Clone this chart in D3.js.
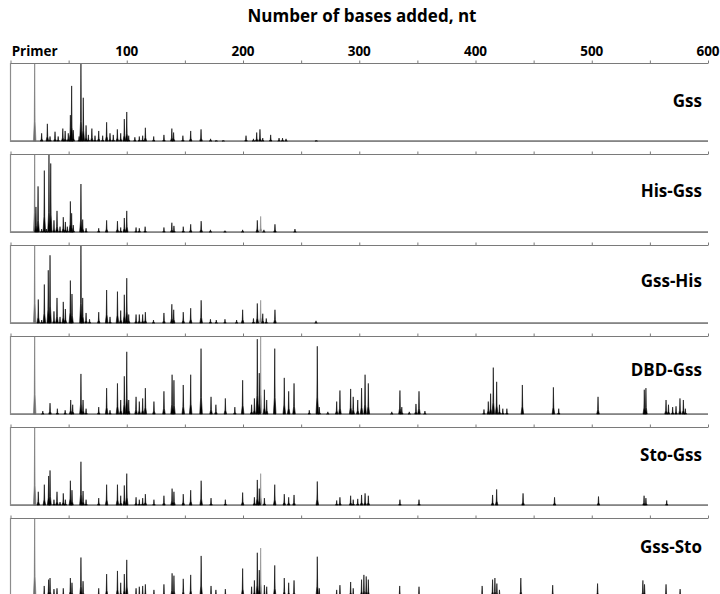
<!DOCTYPE html>
<html>
<head>
<meta charset="utf-8">
<script src="https://cdn.jsdelivr.net/npm/d3@7"></script>
<style>
  body { margin: 0; background: #fff; }
  svg { display: block; font-family: "Open Sans", sans-serif; }
</style>
</head>
<body>
<div id="chart"></div>
<script>
// sample names, top to bottom
const samples = ["Gss", "His-Gss", "Gss-His", "DBD-Gss", "Sto-Gss", "Gss-Sto"]
const tickValues = [20.8, 100, 200, 300, 400, 500, 600]
const tickLabels = ["Primer", "100", "200", "300", "400", "500", "600"]
const primerNt = 20.8
const overlayNt = 215.2

// peaks: [position in nt, height as fraction of panel]
const gssPeaks = [
  [20.8, 1], [26.8, .11], [31.7, .23], [34, .07], [38.3, .13], [41, .07], [45, .17], [47, .14],
  [49.7, .11], [51.5, .34], [52.6, .71], [54, .15], [59, .07], [60.6, 1], [62.6, .56], [65, .21],
  [67, .09], [70, .17], [72.7, .08], [75.9, .14], [79.3, .08], [82.7, .25], [85.6, .11], [88.4, .09],
  [91.9, .16], [94.8, .11], [97.9, .29], [100, .38], [101.7, .08], [107, .06], [110.8, .07],
  [113.7, .08], [116, .18], [123.2, .07], [132, .09], [138.8, .17], [140.3, .12], [148.3, .08],
  [155, .14], [163.9, .16], [172.1, .04], [177, .02], [183, .02], [202.6, .08], [209, .04],
  [211.8, .12], [214.6, .16], [217, .05], [223.8, .09], [231, .05], [234, .05], [237, .04], [263, .02]
]
const hisGssPeaks = [
  [20.8, 1], [21.9, .33], [23.7, .59], [26.8, .05], [29.1, .79], [31, .05], [33.1, .99], [34.6, .88],
  [37.4, .16], [40, .28], [42.6, .08], [45.4, .2], [47.2, .14], [48.9, .08], [51.5, .4], [52.6, .25],
  [54, .1], [60.6, .62], [62.1, .17], [65, .06], [75.9, .06], [82.7, .16], [92, .15], [94.8, .07],
  [97.9, .19], [100, .28], [108, .07], [110.8, .06], [115.8, .08], [132, .07], [138.8, .13],
  [140.6, .09], [148.6, .08], [155, .11], [164, .15], [172, .04], [184.5, .03], [199.7, .04],
  [212.3, .16], [215.2, .21], [218, .04], [227.5, .11], [244.7, .05]
]
const gssHisPeaks = [
  [20.8, 1], [23.9, .31], [26.8, .05], [29.1, .5], [32.5, .68], [34, .87], [37.4, .16], [40, .33],
  [42.6, .09], [45.4, .28], [47.2, .19], [51.5, .55], [52.9, .38], [60.6, 1], [62.1, .33], [65, .14],
  [68, .06], [75.9, .15], [82.7, .43], [85.6, .09], [92, .41], [94.8, .17], [97.9, .37], [100, .58],
  [101.7, .12], [108, .12], [110.8, .12], [113.7, .12], [116, .15], [123, .05], [132, .14],
  [138.8, .25], [140.4, .18], [148.6, .15], [155, .2], [164, .3], [172, .06], [177, .05],
  [184.5, .06], [194.5, .05], [199.7, .18], [209, .07], [212.3, .26], [215.2, .3], [217, .13],
  [220, .07], [227.5, .18], [262.8, .04]
]
const dbdGssPeaks = [
  [20.8, 1], [27.8, .05], [34, .15], [40.3, .08], [47, .06], [51.8, .19], [53.5, .13], [60.6, .52],
  [62.4, .19], [65, .08], [75.9, .1], [82.7, .34], [85.6, .06], [92, .4], [94.8, .19], [97.9, .49],
  [100, .8], [101.7, .19], [108, .23], [110.8, .17], [113.7, .21], [116, .34], [123.4, .17],
  [132, .3], [139, .51], [140.6, .44], [148.6, .38], [155, .51], [163.9, .84], [172.5, .23],
  [176.7, .13], [184.8, .21], [193, .1], [199.7, .44], [207.4, .13], [209.8, .21], [212.3, .96],
  [214, .53], [215.2, 1], [218.4, .32], [220.4, .19], [227.3, .84], [235.5, .47], [239.3, .3],
  [243.9, .4], [257, .06], [263.9, .87], [265.6, .1], [273, .04], [280.6, .17], [283.4, .31],
  [292.6, .33], [294.8, .23], [298.7, .19], [302, .34], [305, .51], [307.8, .4], [328, .04],
  [335, .31], [336.6, .1], [343, .04], [348.8, .14], [351.4, .3], [356.5, .05], [407.3, .07],
  [411, .17], [413, .27], [415.3, .6], [418.2, .42], [420.6, .13], [423.5, .08], [427, .08],
  [440.3, .38], [467, .35], [471.6, .08], [505.4, .23], [545.2, .32], [546.6, .34], [563.9, .19],
  [566, .13], [569.6, .1], [572.5, .11], [575.9, .21], [578.8, .19], [580.5, .08]
]
const stoGssPeaks = [
  [20.8, 1], [23.9, .18], [29.1, .27], [32.8, .38], [34, .45], [37.4, .08], [40, .18], [42.6, .05],
  [45.4, .16], [47.2, .08], [51.5, .32], [52.9, .2], [60.6, .56], [62.4, .19], [65, .08], [75.9, .1],
  [82.7, .27], [92, .27], [94.8, .13], [97.9, .26], [100, .41], [108, .11], [110.8, .08],
  [113.7, .1], [116, .15], [123.4, .08], [132, .13], [139, .22], [140.6, .18], [148.6, .15],
  [155, .2], [164, .32], [172.5, .1], [184.8, .08], [199.7, .17], [209.8, .11], [212.3, .33],
  [214, .22], [215.2, .41], [218.4, .1], [227.3, .27], [235.5, .15], [239.3, .11], [243.9, .14],
  [263.9, .31], [280.6, .07], [283.4, .11], [292.6, .13], [294.8, .08], [298.7, .09], [302, .14],
  [305, .16], [307.8, .13], [335, .08], [351.4, .08], [414.7, .14], [418.2, .21], [440.9, .16],
  [468, .11], [505.8, .12], [545, .13], [546.6, .1], [564.5, .07]
]
const gssStoPeaks = [
  [20.8, 1], [29, .14], [32.8, .22], [34, .24], [37.4, .1], [40, .11], [45.4, .11], [51.5, .24],
  [52.9, .18], [60.6, .5], [62.4, .2], [75.9, .11], [82.7, .29], [92, .33], [94.8, .18], [97.9, .29],
  [100, .47], [108, .11], [110.8, .13], [113.7, .14], [116, .16], [123.4, .09], [132, .16],
  [139, .3], [140.6, .27], [148.6, .23], [155, .28], [164, .52], [172.5, .14], [176.7, .09],
  [184.8, .1], [199.7, .36], [207.4, .13], [209.8, .21], [212.3, .56], [214, .34], [215.2, .62],
  [218.4, .15], [220.4, .13], [227.3, .4], [235.5, .24], [239.3, .18], [243.9, .21], [263.9, .51],
  [265.6, .11], [280.6, .09], [283.4, .15], [292.6, .19], [294.8, .11], [302, .22], [304, .28],
  [306, .26], [307.8, .22], [334.8, .14], [351.4, .13], [405.7, .14], [414.7, .22], [416.7, .24],
  [418.4, .17], [420.6, .09], [439, .24], [466.4, .15], [505, .17], [544, .21], [545.4, .16],
  [563.9, .16], [576, .1]
]
const peaks = [gssPeaks, hisGssPeaks, gssHisPeaks, dbdGssPeaks, stoGssPeaks, gssStoPeaks]

const width = 720
const height = 594
const panelTop = 63
const panelStep = 91
const panelHeight = 79
const labelDy = [44, 43, 42, 40, 34, 35]

const x = d3.scaleLinear().domain([0, 600]).range([10.5, 708])
const y = d3.scaleLinear().domain([0, 1]).range([panelHeight, 0])

const svg = d3.select("#chart")
    .append("svg")
    .attr("width", width)
    .attr("height", height)

svg.append("text")
    .attr("x", 362)
    .attr("y", 22)
    .attr("text-anchor", "middle")
    .attr("font-size", 17)
    .attr("font-weight", 700)
    .text("Number of bases added, nt")

svg.append("g")
    .selectAll("text")
    .data(tickValues)
    .join("text")
    .attr("x", d => x(d))
    .attr("y", 56)
    .attr("text-anchor", "middle")
    .attr("font-size", 13.5)
    .attr("font-weight", 700)
    .text((d, i) => tickLabels[i])

// each peak is drawn as a narrow spike with a slightly wider foot
const halfWidth = 1.1
const base = 0.012
const spike = d3.area()
    .x(d => x(d[0]))
    .y0(y(base))
    .y1(d => y(d[1]))
const peakShape = p => {
    const h = Math.min(p[1], 1)
    return [
        [p[0] - halfWidth, base],
        [p[0] - halfWidth * 0.3, base + (h - base) * 0.25],
        [p[0], h],
        [p[0] + halfWidth * 0.3, base + (h - base) * 0.25],
        [p[0] + halfWidth, base]
    ]
}
const peakColor = p => p[0] === primerNt ? "#6e6e6e" : p[0] === overlayNt ? "#8a8a8a" : "#000"

samples.forEach((name, i) => {
    const g = svg.append("g")
        .attr("transform", `translate(0, ${panelTop + i * panelStep})`)

    g.append("clipPath")
        .attr("id", `clip${i}`)
        .append("rect")
        .attr("x", 0).attr("y", 0)
        .attr("width", width).attr("height", panelHeight + 2)

    const trace = g.append("g").attr("clip-path", `url(#clip${i})`)

    // baseline
    trace.append("line")
        .attr("x1", x(0)).attr("x2", x(600))
        .attr("y1", y(base)).attr("y2", y(base))
        .attr("stroke", "#222")
        .attr("stroke-width", 1)

    trace.selectAll("path")
        .data(peaks[i].slice().sort((a, b) => b[1] - a[1]))
        .join("path")
        .attr("d", p => spike(peakShape(p)))
        .attr("fill", peakColor)
        .attr("stroke", peakColor)
        .attr("stroke-width", 0.6)

    // left border
    g.append("line")
        .attr("x1", x(0)).attr("x2", x(0))
        .attr("y1", 0).attr("y2", y(0))
        .attr("stroke", "#8c8c8c")
        .attr("stroke-width", 1.2)

    const axis = g.append("g")
        .call(d3.axisTop(x).tickValues(d3.range(0, 601, 50)).tickSize(2.5).tickFormat("").tickSizeOuter(0))
    axis.select(".domain").attr("stroke", "#7a7a7a").attr("stroke-width", 1.2)
    axis.selectAll(".tick line").attr("stroke", "#7a7a7a")

    g.append("text")
        .attr("x", 702)
        .attr("y", labelDy[i])
        .attr("text-anchor", "end")
        .attr("font-size", 17)
        .attr("font-weight", 700)
        .text(name)
})
</script>
</body>
</html>
